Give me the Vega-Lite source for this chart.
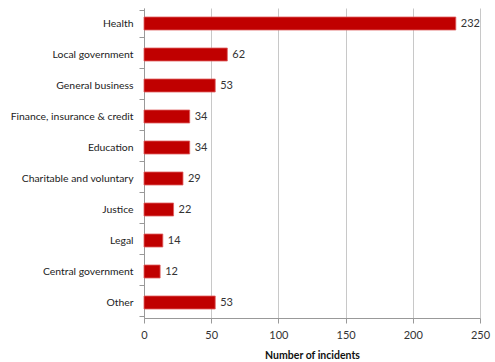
{
  "$schema": "https://vega.github.io/schema/vega-lite/v6.json",
  "width": 336,
  "height": 310,
  "autosize": "none",
  "padding": {"left": 144, "top": 8, "right": 15, "bottom": 44},
  "background": "white",
  "config": {"view": {"stroke": null}, "font": "Lato"},
  "data": {"values": [
    {"sector": "Health", "incidents": 232},
    {"sector": "Local government", "incidents": 62},
    {"sector": "General business", "incidents": 53},
    {"sector": "Finance, insurance & credit", "incidents": 34},
    {"sector": "Education", "incidents": 34},
    {"sector": "Charitable and voluntary", "incidents": 29},
    {"sector": "Justice", "incidents": 22},
    {"sector": "Legal", "incidents": 14},
    {"sector": "Central government", "incidents": 12},
    {"sector": "Other", "incidents": 53}
  ]},
  "encoding": {
    "y": {"field": "sector", "type": "nominal", "sort": null,
      "axis": {"title": null, "tickBand": "extent", "tickSize": 5, "labelPadding": 6, "labelFontSize": 10.4, "labelColor": "#222", "domainColor": "#999", "tickColor": "#999", "grid": false, "labelFont": "Lato"}},
    "x": {"field": "incidents", "type": "quantitative",
      "scale": {"domain": [0, 250], "nice": false},
      "axis": {"values": [0, 50, 100, 150, 200, 250], "title": "Number of incidents", "titleFontWeight": "bold", "titleFontSize": 10.5, "titleColor": "#111", "titlePadding": 10, "labelFontSize": 11, "labelColor": "#333", "labelPadding": 6, "tickSize": 5, "domainColor": "#999", "tickColor": "#999", "gridColor": "#c8c8c8", "grid": true, "labelFlush": false}}
  },
  "layer": [
    {"mark": {"type": "bar", "size": 13, "color": "#c00000", "stroke": "#e06060", "strokeWidth": 0.8}},
    {"mark": {"type": "text", "align": "left", "dx": 5, "fontSize": 11, "color": "#333", "font": "Lato"},
     "encoding": {"text": {"field": "incidents", "type": "quantitative"}}}
  ]
}
